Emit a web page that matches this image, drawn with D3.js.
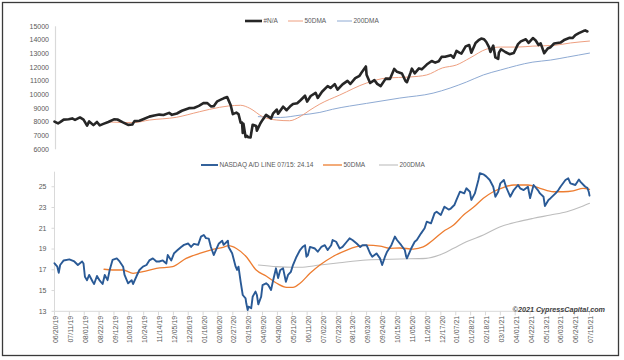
<!DOCTYPE html>
<html><head><meta charset="utf-8">
<script src="https://cdn.jsdelivr.net/npm/d3@7"></script>
<style>body{margin:0;background:#fff}svg{display:block}text{font-family:"Liberation Sans",Arial,sans-serif}</style>
</head><body><svg id="c" width="624" height="360"></svg>
<script>
// ---------- DATA ----------
const nasdaq = [
["2019-06-20",8030],["2019-06-25",7900],["2019-06-28",7990],["2019-07-03",8170],["2019-07-10",8200],["2019-07-15",8260],
["2019-07-19",8150],["2019-07-26",8330],["2019-07-31",8170],["2019-08-05",7730],["2019-08-08",8040],["2019-08-14",7770],
["2019-08-19",8000],["2019-08-23",7750],["2019-08-28",7860],["2019-09-04",8000],["2019-09-12",8190],["2019-09-17",8180],
["2019-09-24",7990],["2019-10-02",7790],["2019-10-08",7820],["2019-10-11",8060],["2019-10-18",8090],["2019-10-25",8240],
["2019-11-01",8390],["2019-11-08",8475],["2019-11-15",8540],["2019-11-21",8510],["2019-11-29",8665],["2019-12-03",8520],
["2019-12-10",8620],["2019-12-17",8820],["2019-12-27",9010],["2020-01-03",9020],["2020-01-10",9180],["2020-01-17",9390],
["2020-01-22",9380],["2020-01-27",9140],["2020-01-31",9150],["2020-02-05",9510],["2020-02-10",9630],["2020-02-14",9730],
["2020-02-19",9820],["2020-02-21",9580],["2020-02-24",9220],["2020-02-27",8570],["2020-03-03",8680],["2020-03-06",8580],
["2020-03-09",7950],["2020-03-11",7950],["2020-03-12",7200],["2020-03-13",7870],["2020-03-16",6900],["2020-03-18",6990],
["2020-03-20",6880],["2020-03-23",6860],["2020-03-26",7800],["2020-03-31",7700],["2020-04-01",7360],["2020-04-06",7910],
["2020-04-09",8150],["2020-04-14",8520],["2020-04-21",8260],["2020-04-24",8630],["2020-04-29",8910],["2020-05-01",8600],
["2020-05-08",9120],["2020-05-13",8860],["2020-05-19",9190],["2020-05-22",9320],["2020-05-28",9370],["2020-06-02",9610],
["2020-06-08",9920],["2020-06-11",9490],["2020-06-16",9900],["2020-06-23",10130],["2020-06-26",9760],["2020-07-02",10210],
["2020-07-10",10620],["2020-07-14",10490],["2020-07-20",10770],["2020-07-24",10360],["2020-07-31",10750],["2020-08-07",11010],
["2020-08-11",10780],["2020-08-18",11210],["2020-08-24",11380],["2020-08-28",11700],["2020-09-02",12060],["2020-09-03",11460],
["2020-09-08",10850],["2020-09-14",11060],["2020-09-18",10790],["2020-09-23",10630],["2020-09-30",11170],["2020-10-06",11150],
["2020-10-12",11880],["2020-10-16",11670],["2020-10-23",11550],["2020-10-28",11000],["2020-10-30",10910],["2020-11-04",11590],
["2020-11-06",11900],["2020-11-10",11550],["2020-11-16",11920],["2020-11-20",11850],["2020-11-27",12200],["2020-12-04",12460],
["2020-12-09",12340],["2020-12-14",12440],["2020-12-18",12760],["2020-12-23",12770],["2020-12-31",12890],["2021-01-04",12700],
["2021-01-08",13200],["2021-01-12",13070],["2021-01-15",13000],["2021-01-21",13530],["2021-01-26",13630],["2021-01-29",13070],
["2021-02-04",13780],["2021-02-09",14010],["2021-02-12",14100],["2021-02-16",14050],["2021-02-19",13870],["2021-02-23",13470],
["2021-02-25",13120],["2021-03-01",13590],["2021-03-04",12720],["2021-03-08",12610],["2021-03-09",13070],["2021-03-12",13320],
["2021-03-18",13120],["2021-03-24",12960],["2021-03-30",13050],["2021-04-05",13700],["2021-04-09",13900],["2021-04-16",14050],
["2021-04-20",13790],["2021-04-26",14140],["2021-04-30",13960],["2021-05-04",13630],["2021-05-07",13750],["2021-05-12",13030],
["2021-05-17",13380],["2021-05-21",13470],["2021-05-26",13740],["2021-06-04",13810],["2021-06-10",14020],["2021-06-17",14160],
["2021-06-21",14140],["2021-06-25",14360],["2021-06-30",14500],["2021-07-07",14670],["2021-07-09",14700],["2021-07-12",14620]
];
const nasdaq50 = [
["2019-09-05",8000],["2019-10-09",7950],["2019-11-01",8140],["2019-12-09",8340],["2020-01-11",8750],["2020-02-08",9070],
["2020-02-21",9170],["2020-03-09",9220],["2020-03-22",9000],["2020-04-09",8390],["2020-04-29",8140],["2020-05-17",8090],
["2020-06-01",8390],["2020-06-15",8870],["2020-06-29",9310],["2020-07-27",9970],["2020-09-03",10850],["2020-10-02",11220],
["2020-11-03",11290],["2020-11-27",11440],["2020-12-19",11950],["2021-01-08",12170],["2021-01-27",12680],["2021-02-20",13340],
["2021-03-11",13480],["2021-04-04",13480],["2021-04-26",13550],["2021-05-25",13600],["2021-06-18",13780],["2021-07-15",13920]
];
const nasdaq200 = [
["2020-04-03",8390],["2020-05-04",8330],["2020-06-01",8500],["2020-06-29",8700],["2020-07-17",8930],["2020-09-03",9360],
["2020-10-20",9750],["2020-12-06",10110],["2020-12-30",10480],["2021-01-22",10920],["2021-02-15",11440],["2021-03-11",11800],
["2021-04-26",12380],["2021-05-21",12530],["2021-06-14",12750],["2021-07-15",13040]
];
const adLine = [
["2019-06-20",17.62],["2019-06-24",17.3],["2019-06-26",16.7],["2019-06-28",17.46],["2019-07-03",17.9],["2019-07-11",18.0],
["2019-07-18",17.8],["2019-07-23",17.46],["2019-07-29",17.8],["2019-07-31",17.6],["2019-08-02",16.33],["2019-08-05",16.0],
["2019-08-08",16.5],["2019-08-13",15.85],["2019-08-15",15.63],["2019-08-19",16.4],["2019-08-23",15.95],["2019-08-27",15.63],
["2019-08-30",16.5],["2019-09-03",16.0],["2019-09-06",16.98],["2019-09-10",17.95],["2019-09-16",18.1],["2019-09-20",17.8],
["2019-09-25",17.3],["2019-09-27",16.5],["2019-10-02",15.7],["2019-10-07",16.0],["2019-10-09",15.63],["2019-10-14",16.4],
["2019-10-18",16.98],["2019-10-23",17.3],["2019-10-28",17.46],["2019-11-01",17.9],["2019-11-06",18.1],["2019-11-11",17.8],
["2019-11-15",17.8],["2019-11-20",17.9],["2019-11-25",17.6],["2019-11-27",18.42],["2019-12-02",17.9],["2019-12-06",18.6],
["2019-12-11",18.9],["2019-12-16",19.2],["2019-12-20",19.4],["2019-12-26",19.53],["2019-12-30",19.2],["2020-01-03",19.5],
["2020-01-09",19.4],["2020-01-13",20.2],["2020-01-17",20.35],["2020-01-20",20.05],["2020-01-24",20.0],["2020-01-27",19.2],
["2020-01-31",18.42],["2020-02-04",19.05],["2020-02-07",19.5],["2020-02-12",19.8],["2020-02-14",19.4],["2020-02-20",19.8],
["2020-02-21",19.2],["2020-02-26",18.6],["2020-03-02",17.3],["2020-03-04",16.98],["2020-03-06",17.3],["2020-03-09",15.85],
["2020-03-12",14.57],["2020-03-16",14.25],["2020-03-17",13.77],["2020-03-19",13.13],["2020-03-20",13.45],["2020-03-24",13.3],
["2020-03-26",14.4],["2020-03-30",14.9],["2020-04-01",14.57],["2020-04-03",13.67],["2020-04-07",14.4],["2020-04-09",15.53],
["2020-04-14",15.7],["2020-04-17",15.53],["2020-04-21",15.05],["2020-04-24",16.0],["2020-04-28",17.14],["2020-05-01",16.2],
["2020-05-04",16.98],["2020-05-08",17.14],["2020-05-12",15.85],["2020-05-15",16.5],["2020-05-19",16.8],["2020-05-22",17.46],
["2020-05-27",18.26],["2020-06-01",18.9],["2020-06-05",19.22],["2020-06-08",19.37],["2020-06-10",18.26],["2020-06-12",18.4],
["2020-06-15",19.2],["2020-06-22",19.05],["2020-06-26",18.74],["2020-07-01",19.2],["2020-07-06",19.37],["2020-07-10",18.9],
["2020-07-15",19.37],["2020-07-17",19.87],["2020-07-22",19.7],["2020-07-27",19.05],["2020-07-31",19.2],["2020-08-06",19.7],
["2020-08-10",20.03],["2020-08-14",19.87],["2020-08-20",19.53],["2020-08-25",19.2],["2020-08-28",19.37],["2020-09-03",19.37],
["2020-09-08",18.58],["2020-09-11",18.26],["2020-09-17",18.58],["2020-09-22",18.1],["2020-09-25",17.46],["2020-09-29",18.26],
["2020-10-02",18.74],["2020-10-08",19.37],["2020-10-13",20.2],["2020-10-16",19.87],["2020-10-22",19.37],["2020-10-27",18.9],
["2020-10-29",18.26],["2020-10-30",18.1],["2020-11-05",19.05],["2020-11-10",19.7],["2020-11-13",19.87],["2020-11-19",20.51],
["2020-11-24",21.0],["2020-11-27",21.63],["2020-12-03",21.47],["2020-12-08",22.44],["2020-12-11",22.6],["2020-12-17",22.28],
["2020-12-22",23.08],["2020-12-28",22.8],["2020-12-31",22.9],["2021-01-05",23.24],["2021-01-08",23.73],["2021-01-13",24.52],
["2021-01-19",24.36],["2021-01-22",24.85],["2021-01-27",24.52],["2021-01-29",23.73],["2021-02-03",24.36],["2021-02-08",25.65],
["2021-02-10",26.3],["2021-02-15",26.2],["2021-02-19",26.0],["2021-02-24",25.65],["2021-03-01",25.0],["2021-03-04",24.04],
["2021-03-08",24.52],["2021-03-11",25.33],["2021-03-16",25.65],["2021-03-19",25.0],["2021-03-25",24.04],["2021-03-30",24.68],
["2021-04-05",25.17],["2021-04-08",24.85],["2021-04-13",24.68],["2021-04-19",25.0],["2021-04-22",23.9],["2021-04-27",25.17],
["2021-05-03",24.68],["2021-05-06",24.36],["2021-05-11",24.04],["2021-05-13",23.14],["2021-05-18",23.73],["2021-05-21",23.9],
["2021-05-28",24.36],["2021-06-01",24.68],["2021-06-04",25.0],["2021-06-11",25.65],["2021-06-15",25.81],["2021-06-18",25.33],
["2021-06-25",25.17],["2021-06-30",25.7],["2021-07-02",25.5],["2021-07-09",25.0],["2021-07-12",24.9],["2021-07-14",24.5],
["2021-07-15",24.14]
];
const ad50 = [
["2019-08-29",17.05],["2019-09-10",16.98],["2019-09-25",16.98],["2019-10-09",16.66],["2019-10-23",16.82],["2019-11-11",17.14],
["2019-12-04",17.3],["2019-12-23",18.1],["2020-01-11",18.58],["2020-01-30",18.97],["2020-02-13",19.17],["2020-02-21",19.32],
["2020-03-03",19.05],["2020-03-17",18.26],["2020-03-31",16.98],["2020-04-14",16.4],["2020-04-29",15.7],["2020-05-13",15.31],
["2020-05-22",15.3],["2020-06-01",15.7],["2020-06-15",16.66],["2020-06-29",17.46],["2020-07-17",18.26],["2020-08-06",18.9],
["2020-08-20",19.22],["2020-09-03",19.37],["2020-09-22",19.28],["2020-10-06",19.07],["2020-10-20",19.1],["2020-11-08",19.0],
["2020-11-22",19.2],["2020-12-06",19.87],["2020-12-20",20.67],["2021-01-04",21.31],["2021-01-18",22.28],["2021-02-01",23.02],
["2021-02-15",23.89],["2021-03-01",24.52],["2021-03-16",24.95],["2021-03-30",25.17],["2021-04-19",25.17],["2021-05-06",24.85],
["2021-05-25",24.52],["2021-06-08",24.52],["2021-06-22",24.6],["2021-07-06",24.85],["2021-07-15",24.75]
];
const ad200 = [
["2020-04-03",17.46],["2020-04-29",17.3],["2020-05-22",17.24],["2020-06-01",17.24],["2020-06-29",17.46],["2020-07-27",17.68],
["2020-09-03",17.94],["2020-10-20",18.04],["2020-11-26",18.1],["2020-12-15",18.42],["2021-01-04",19.07],["2021-01-22",19.7],
["2021-02-15",20.35],["2021-03-11",21.15],["2021-04-05",21.63],["2021-04-27",21.96],["2021-05-21",22.28],["2021-06-13",22.6],
["2021-07-06",23.14],["2021-07-15",23.4]
];
const topTicks = [6000,7000,8000,9000,10000,11000,12000,13000,14000,15000];
const botTicks = [13,15,17,19,21,23,25];
const xTickLabels = ["06/20/19","07/11/19","08/01/19","08/22/19","09/12/19","10/03/19","10/24/19","11/14/19","12/05/19","12/26/19",
"01/16/20","02/06/20","02/27/20","03/19/20","04/09/20","04/30/20","05/21/20","06/11/20","07/02/20","07/23/20","08/13/20",
"09/03/20","09/24/20","10/15/20","11/05/20","11/26/20","12/17/20","01/07/21","01/28/21","02/18/21","03/11/21","04/01/21",
"04/22/21","05/13/21","06/03/21","06/24/21","07/15/21"];
const topLegend = ["#N/A","50DMA","200DMA"];
const botLegend = ["NASDAQ A/D LINE 07/15: 24.14","50DMA","200DMA"];
const credit = "\u00A92021 CypressCapital.com";

// ---------- DRAW ----------
const svg = d3.select("#c");
const pd = d3.timeParse("%Y-%m-%d"), pt = d3.timeParse("%m/%d/%y");
const conv = a => a.map(d => ({t: pd(d[0]), v: d[1]}));
const x = d3.scaleTime().domain([pd("2019-06-20"), pd("2021-07-15")]).range([54.5, 589.5]);
const yT = d3.scaleLinear().domain([6000, 15000]).range([149.3, 26.3]);
const yB = d3.scaleLinear().domain([13, 26.45]).range([311.3, 171.7]);
const axisCol = "#d9d9d9", labCol = "#595959";

// frame
svg.append("rect").attr("x",2.5).attr("y",2.5).attr("width",616).attr("height",353)
  .attr("fill","none").attr("stroke","#3a3a3a").attr("stroke-width",1.3);

// top axis
svg.append("line").attr("x1",55.5).attr("x2",55.5).attr("y1",yT(15000)).attr("y2",yT(6000))
  .attr("stroke",axisCol).attr("stroke-width",1.2);
svg.append("g").selectAll("text").data(topTicks).join("text")
  .attr("x",49).attr("y",d=>yT(d)).attr("dy","0.35em").attr("text-anchor","end")
  .attr("font-size",7).attr("fill",labCol).text(d=>d);

// bottom axes
svg.append("line").attr("x1",54.5).attr("x2",54.5).attr("y1",yB.range()[1]).attr("y2",yB(13))
  .attr("stroke",axisCol).attr("stroke-width",1);
svg.append("g").selectAll("line").data(botTicks).join("line")
  .attr("x1",51.5).attr("x2",54.5).attr("y1",d=>yB(d)).attr("y2",d=>yB(d)).attr("stroke",axisCol);
svg.append("g").selectAll("text").data(botTicks).join("text")
  .attr("x",46.5).attr("y",d=>yB(d)).attr("dy","0.35em").attr("text-anchor","end")
  .attr("font-size",7).attr("fill",labCol).text(d=>d);
svg.append("line").attr("x1",54.5).attr("x2",x.range()[1]+2).attr("y1",yB(13)).attr("y2",yB(13))
  .attr("stroke",axisCol).attr("stroke-width",1);
const xt = xTickLabels.map(s => ({t: pt(s), s}));
svg.append("g").selectAll("line").data(xt).join("line")
  .attr("x1",d=>x(d.t)).attr("x2",d=>x(d.t)).attr("y1",yB(13)).attr("y2",yB(13)+4).attr("stroke",axisCol);
svg.append("g").selectAll("text").data(xt).join("text")
  .attr("transform",d=>`translate(${x(d.t)+1.2},${yB(13)+4.5}) rotate(-90)`)
  .attr("dy","0.35em").attr("text-anchor","end").attr("font-size",7).attr("fill",labCol).text(d=>d.s);

// lines
function draw(data, y, color, w, curve){
  const g = d3.line().x(d=>x(d.t)).y(d=>y(d.v)).curve(curve||d3.curveLinear);
  svg.append("path").datum(conv(data)).attr("d",g).attr("fill","none").attr("stroke",color)
    .attr("stroke-width",w).attr("stroke-linejoin","round").attr("stroke-linecap","round");
}
draw(nasdaq200, yT, "#8eaad3", 1, d3.curveMonotoneX);
draw(nasdaq50, yT, "#ee9f80", 1, d3.curveMonotoneX);
draw(nasdaq, yT, "#262626", 2.6);
draw(ad200, yB, "#bdbdbd", 1.1, d3.curveMonotoneX);
draw(ad50, yB, "#ed7d31", 1.3, d3.curveMonotoneX);
draw(adLine, yB, "#2a5a96", 1.9);

// legends
function legend(items, colors, widths, xs, y){
  items.forEach((s,i)=>{
    svg.append("line").attr("x1",xs[i][0]).attr("x2",xs[i][1]).attr("y1",y).attr("y2",y)
      .attr("stroke",colors[i]).attr("stroke-width",widths[i]);
    svg.append("text").attr("x",xs[i][1]+1.5).attr("y",y).attr("dy","0.35em")
      .attr("font-size",6.5).attr("fill",labCol).text(s);
  });
}
legend(topLegend, ["#262626","#ee9f80","#8eaad3"], [2.6,1,1], [[245,262],[288,303],[337,352]], 21);
legend(botLegend, ["#2a5a96","#ed7d31","#bdbdbd"], [1.9,1.3,1.1], [[201,218],[323,342],[379,398]], 165);

svg.append("text").attr("x",605).attr("y",309).attr("dy","0.35em").attr("text-anchor","end")
  .attr("font-size",7.2).attr("font-weight","bold").attr("font-style","italic").attr("fill","#404040").text(credit);
</script></body></html>
